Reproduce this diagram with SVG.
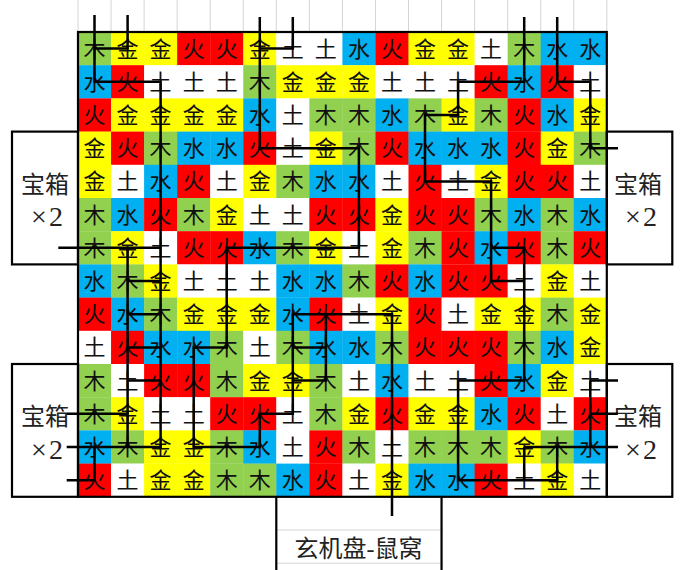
<svg xmlns="http://www.w3.org/2000/svg" width="688" height="570" viewBox="0 0 688 570">
<style>
.a{fill:#92D050}.b{fill:#FFFF00}.c{fill:#FF0000}.d{fill:#FFFFFF}.e{fill:#00B0F0}
.cells text{font-family:"Noto Sans CJK SC",sans-serif;font-size:22px;fill:#111;text-anchor:middle}
.lbl{font-family:"Liberation Serif","Noto Sans CJK SC",serif;font-size:24px;fill:#222;text-anchor:middle}
.x2{font-family:"Liberation Serif",serif;font-size:28px;fill:#222;text-anchor:middle;letter-spacing:2px}
.ln{fill:none;stroke:#000;stroke-width:2.5}
.bx{fill:none;stroke:#000;stroke-width:2.2}
.gl{stroke:#d4d4d4;stroke-width:1}
</style>
<rect width="688" height="570" fill="#fff"/>
<g id="sheet-grid">
<path class="gl" d="M78,0V32M111.05,0V32M144.1,0V32M177.15,0V32M210.2,0V32M243.25,0V32M276.3,0V32M309.35,0V32M342.4,0V32M375.45,0V32M408.5,0V32M441.55,0V32M474.6,0V32M507.65,0V32M540.7,0V32M573.75,0V32M606.8,0V32M276.3,530H441.55M276.3,563.2H441.55"/>
</g>
<g class="cells">
<g id="n0-0" transform="translate(78 32)"><rect class="a" width="33.4" height="33.4"/><text x="16.5" y="24.6">木</text></g>
<g id="n0-1" transform="translate(111.05 32)"><rect class="b" width="33.4" height="33.4"/><text x="16.5" y="24.6">金</text></g>
<g id="n0-2" transform="translate(144.1 32)"><rect class="b" width="33.4" height="33.4"/><text x="16.5" y="24.6">金</text></g>
<g id="n0-3" transform="translate(177.15 32)"><rect class="c" width="33.4" height="33.4"/><text x="16.5" y="24.6">火</text></g>
<g id="n0-4" transform="translate(210.2 32)"><rect class="c" width="33.4" height="33.4"/><text x="16.5" y="24.6">火</text></g>
<g id="n0-5" transform="translate(243.25 32)"><rect class="b" width="33.4" height="33.4"/><text x="16.5" y="24.6">金</text></g>
<g id="n0-6" transform="translate(276.3 32)"><rect class="d" width="33.4" height="33.4"/><text x="16.5" y="24.6">土</text></g>
<g id="n0-7" transform="translate(309.35 32)"><rect class="d" width="33.4" height="33.4"/><text x="16.5" y="24.6">土</text></g>
<g id="n0-8" transform="translate(342.4 32)"><rect class="e" width="33.4" height="33.4"/><text x="16.5" y="24.6">水</text></g>
<g id="n0-9" transform="translate(375.45 32)"><rect class="c" width="33.4" height="33.4"/><text x="16.5" y="24.6">火</text></g>
<g id="n0-10" transform="translate(408.5 32)"><rect class="b" width="33.4" height="33.4"/><text x="16.5" y="24.6">金</text></g>
<g id="n0-11" transform="translate(441.55 32)"><rect class="b" width="33.4" height="33.4"/><text x="16.5" y="24.6">金</text></g>
<g id="n0-12" transform="translate(474.6 32)"><rect class="d" width="33.4" height="33.4"/><text x="16.5" y="24.6">土</text></g>
<g id="n0-13" transform="translate(507.65 32)"><rect class="a" width="33.4" height="33.4"/><text x="16.5" y="24.6">木</text></g>
<g id="n0-14" transform="translate(540.7 32)"><rect class="e" width="33.4" height="33.4"/><text x="16.5" y="24.6">水</text></g>
<g id="n0-15" transform="translate(573.75 32)"><rect class="e" width="33.05" height="33.4"/><text x="16.5" y="24.6">水</text></g>

<g id="n1-0" transform="translate(78 65.2)"><rect class="e" width="33.4" height="33.4"/><text x="16.5" y="24.6">水</text></g>
<g id="n1-1" transform="translate(111.05 65.2)"><rect class="c" width="33.4" height="33.4"/><text x="16.5" y="24.6">火</text></g>
<g id="n1-2" transform="translate(144.1 65.2)"><rect class="d" width="33.4" height="33.4"/><text x="16.5" y="24.6">土</text></g>
<g id="n1-3" transform="translate(177.15 65.2)"><rect class="d" width="33.4" height="33.4"/><text x="16.5" y="24.6">土</text></g>
<g id="n1-4" transform="translate(210.2 65.2)"><rect class="d" width="33.4" height="33.4"/><text x="16.5" y="24.6">土</text></g>
<g id="n1-5" transform="translate(243.25 65.2)"><rect class="a" width="33.4" height="33.4"/><text x="16.5" y="24.6">木</text></g>
<g id="n1-6" transform="translate(276.3 65.2)"><rect class="b" width="33.4" height="33.4"/><text x="16.5" y="24.6">金</text></g>
<g id="n1-7" transform="translate(309.35 65.2)"><rect class="b" width="33.4" height="33.4"/><text x="16.5" y="24.6">金</text></g>
<g id="n1-8" transform="translate(342.4 65.2)"><rect class="b" width="33.4" height="33.4"/><text x="16.5" y="24.6">金</text></g>
<g id="n1-9" transform="translate(375.45 65.2)"><rect class="d" width="33.4" height="33.4"/><text x="16.5" y="24.6">土</text></g>
<g id="n1-10" transform="translate(408.5 65.2)"><rect class="d" width="33.4" height="33.4"/><text x="16.5" y="24.6">土</text></g>
<g id="n1-11" transform="translate(441.55 65.2)"><rect class="d" width="33.4" height="33.4"/><text x="16.5" y="24.6">土</text></g>
<g id="n1-12" transform="translate(474.6 65.2)"><rect class="c" width="33.4" height="33.4"/><text x="16.5" y="24.6">火</text></g>
<g id="n1-13" transform="translate(507.65 65.2)"><rect class="e" width="33.4" height="33.4"/><text x="16.5" y="24.6">水</text></g>
<g id="n1-14" transform="translate(540.7 65.2)"><rect class="c" width="33.4" height="33.4"/><text x="16.5" y="24.6">火</text></g>
<g id="n1-15" transform="translate(573.75 65.2)"><rect class="d" width="33.05" height="33.4"/><text x="16.5" y="24.6">土</text></g>

<g id="n2-0" transform="translate(78 98.4)"><rect class="c" width="33.4" height="33.4"/><text x="16.5" y="24.6">火</text></g>
<g id="n2-1" transform="translate(111.05 98.4)"><rect class="b" width="33.4" height="33.4"/><text x="16.5" y="24.6">金</text></g>
<g id="n2-2" transform="translate(144.1 98.4)"><rect class="b" width="33.4" height="33.4"/><text x="16.5" y="24.6">金</text></g>
<g id="n2-3" transform="translate(177.15 98.4)"><rect class="b" width="33.4" height="33.4"/><text x="16.5" y="24.6">金</text></g>
<g id="n2-4" transform="translate(210.2 98.4)"><rect class="b" width="33.4" height="33.4"/><text x="16.5" y="24.6">金</text></g>
<g id="n2-5" transform="translate(243.25 98.4)"><rect class="e" width="33.4" height="33.4"/><text x="16.5" y="24.6">水</text></g>
<g id="n2-6" transform="translate(276.3 98.4)"><rect class="d" width="33.4" height="33.4"/><text x="16.5" y="24.6">土</text></g>
<g id="n2-7" transform="translate(309.35 98.4)"><rect class="a" width="33.4" height="33.4"/><text x="16.5" y="24.6">木</text></g>
<g id="n2-8" transform="translate(342.4 98.4)"><rect class="a" width="33.4" height="33.4"/><text x="16.5" y="24.6">木</text></g>
<g id="n2-9" transform="translate(375.45 98.4)"><rect class="e" width="33.4" height="33.4"/><text x="16.5" y="24.6">水</text></g>
<g id="n2-10" transform="translate(408.5 98.4)"><rect class="a" width="33.4" height="33.4"/><text x="16.5" y="24.6">木</text></g>
<g id="n2-11" transform="translate(441.55 98.4)"><rect class="b" width="33.4" height="33.4"/><text x="16.5" y="24.6">金</text></g>
<g id="n2-12" transform="translate(474.6 98.4)"><rect class="a" width="33.4" height="33.4"/><text x="16.5" y="24.6">木</text></g>
<g id="n2-13" transform="translate(507.65 98.4)"><rect class="c" width="33.4" height="33.4"/><text x="16.5" y="24.6">火</text></g>
<g id="n2-14" transform="translate(540.7 98.4)"><rect class="e" width="33.4" height="33.4"/><text x="16.5" y="24.6">水</text></g>
<g id="n2-15" transform="translate(573.75 98.4)"><rect class="b" width="33.05" height="33.4"/><text x="16.5" y="24.6">金</text></g>

<g id="n3-0" transform="translate(78 131.6)"><rect class="b" width="33.4" height="33.4"/><text x="16.5" y="24.6">金</text></g>
<g id="n3-1" transform="translate(111.05 131.6)"><rect class="c" width="33.4" height="33.4"/><text x="16.5" y="24.6">火</text></g>
<g id="n3-2" transform="translate(144.1 131.6)"><rect class="a" width="33.4" height="33.4"/><text x="16.5" y="24.6">木</text></g>
<g id="n3-3" transform="translate(177.15 131.6)"><rect class="e" width="33.4" height="33.4"/><text x="16.5" y="24.6">水</text></g>
<g id="n3-4" transform="translate(210.2 131.6)"><rect class="e" width="33.4" height="33.4"/><text x="16.5" y="24.6">水</text></g>
<g id="n3-5" transform="translate(243.25 131.6)"><rect class="c" width="33.4" height="33.4"/><text x="16.5" y="24.6">火</text></g>
<g id="n3-6" transform="translate(276.3 131.6)"><rect class="d" width="33.4" height="33.4"/><text x="16.5" y="24.6">土</text></g>
<g id="n3-7" transform="translate(309.35 131.6)"><rect class="b" width="33.4" height="33.4"/><text x="16.5" y="24.6">金</text></g>
<g id="n3-8" transform="translate(342.4 131.6)"><rect class="a" width="33.4" height="33.4"/><text x="16.5" y="24.6">木</text></g>
<g id="n3-9" transform="translate(375.45 131.6)"><rect class="c" width="33.4" height="33.4"/><text x="16.5" y="24.6">火</text></g>
<g id="n3-10" transform="translate(408.5 131.6)"><rect class="e" width="33.4" height="33.4"/><text x="16.5" y="24.6">水</text></g>
<g id="n3-11" transform="translate(441.55 131.6)"><rect class="e" width="33.4" height="33.4"/><text x="16.5" y="24.6">水</text></g>
<g id="n3-12" transform="translate(474.6 131.6)"><rect class="e" width="33.4" height="33.4"/><text x="16.5" y="24.6">水</text></g>
<g id="n3-13" transform="translate(507.65 131.6)"><rect class="c" width="33.4" height="33.4"/><text x="16.5" y="24.6">火</text></g>
<g id="n3-14" transform="translate(540.7 131.6)"><rect class="b" width="33.4" height="33.4"/><text x="16.5" y="24.6">金</text></g>
<g id="n3-15" transform="translate(573.75 131.6)"><rect class="a" width="33.05" height="33.4"/><text x="16.5" y="24.6">木</text></g>

<g id="n4-0" transform="translate(78 164.8)"><rect class="b" width="33.4" height="33.4"/><text x="16.5" y="24.6">金</text></g>
<g id="n4-1" transform="translate(111.05 164.8)"><rect class="d" width="33.4" height="33.4"/><text x="16.5" y="24.6">土</text></g>
<g id="n4-2" transform="translate(144.1 164.8)"><rect class="e" width="33.4" height="33.4"/><text x="16.5" y="24.6">水</text></g>
<g id="n4-3" transform="translate(177.15 164.8)"><rect class="c" width="33.4" height="33.4"/><text x="16.5" y="24.6">火</text></g>
<g id="n4-4" transform="translate(210.2 164.8)"><rect class="d" width="33.4" height="33.4"/><text x="16.5" y="24.6">土</text></g>
<g id="n4-5" transform="translate(243.25 164.8)"><rect class="b" width="33.4" height="33.4"/><text x="16.5" y="24.6">金</text></g>
<g id="n4-6" transform="translate(276.3 164.8)"><rect class="a" width="33.4" height="33.4"/><text x="16.5" y="24.6">木</text></g>
<g id="n4-7" transform="translate(309.35 164.8)"><rect class="e" width="33.4" height="33.4"/><text x="16.5" y="24.6">水</text></g>
<g id="n4-8" transform="translate(342.4 164.8)"><rect class="e" width="33.4" height="33.4"/><text x="16.5" y="24.6">水</text></g>
<g id="n4-9" transform="translate(375.45 164.8)"><rect class="d" width="33.4" height="33.4"/><text x="16.5" y="24.6">土</text></g>
<g id="n4-10" transform="translate(408.5 164.8)"><rect class="c" width="33.4" height="33.4"/><text x="16.5" y="24.6">火</text></g>
<g id="n4-11" transform="translate(441.55 164.8)"><rect class="d" width="33.4" height="33.4"/><text x="16.5" y="24.6">土</text></g>
<g id="n4-12" transform="translate(474.6 164.8)"><rect class="b" width="33.4" height="33.4"/><text x="16.5" y="24.6">金</text></g>
<g id="n4-13" transform="translate(507.65 164.8)"><rect class="c" width="33.4" height="33.4"/><text x="16.5" y="24.6">火</text></g>
<g id="n4-14" transform="translate(540.7 164.8)"><rect class="c" width="33.4" height="33.4"/><text x="16.5" y="24.6">火</text></g>
<g id="n4-15" transform="translate(573.75 164.8)"><rect class="d" width="33.05" height="33.4"/><text x="16.5" y="24.6">土</text></g>

<g id="n5-0" transform="translate(78 198)"><rect class="a" width="33.4" height="33.4"/><text x="16.5" y="24.6">木</text></g>
<g id="n5-1" transform="translate(111.05 198)"><rect class="e" width="33.4" height="33.4"/><text x="16.5" y="24.6">水</text></g>
<g id="n5-2" transform="translate(144.1 198)"><rect class="c" width="33.4" height="33.4"/><text x="16.5" y="24.6">火</text></g>
<g id="n5-3" transform="translate(177.15 198)"><rect class="a" width="33.4" height="33.4"/><text x="16.5" y="24.6">木</text></g>
<g id="n5-4" transform="translate(210.2 198)"><rect class="b" width="33.4" height="33.4"/><text x="16.5" y="24.6">金</text></g>
<g id="n5-5" transform="translate(243.25 198)"><rect class="d" width="33.4" height="33.4"/><text x="16.5" y="24.6">土</text></g>
<g id="n5-6" transform="translate(276.3 198)"><rect class="d" width="33.4" height="33.4"/><text x="16.5" y="24.6">土</text></g>
<g id="n5-7" transform="translate(309.35 198)"><rect class="c" width="33.4" height="33.4"/><text x="16.5" y="24.6">火</text></g>
<g id="n5-8" transform="translate(342.4 198)"><rect class="c" width="33.4" height="33.4"/><text x="16.5" y="24.6">火</text></g>
<g id="n5-9" transform="translate(375.45 198)"><rect class="b" width="33.4" height="33.4"/><text x="16.5" y="24.6">金</text></g>
<g id="n5-10" transform="translate(408.5 198)"><rect class="c" width="33.4" height="33.4"/><text x="16.5" y="24.6">火</text></g>
<g id="n5-11" transform="translate(441.55 198)"><rect class="c" width="33.4" height="33.4"/><text x="16.5" y="24.6">火</text></g>
<g id="n5-12" transform="translate(474.6 198)"><rect class="a" width="33.4" height="33.4"/><text x="16.5" y="24.6">木</text></g>
<g id="n5-13" transform="translate(507.65 198)"><rect class="e" width="33.4" height="33.4"/><text x="16.5" y="24.6">水</text></g>
<g id="n5-14" transform="translate(540.7 198)"><rect class="a" width="33.4" height="33.4"/><text x="16.5" y="24.6">木</text></g>
<g id="n5-15" transform="translate(573.75 198)"><rect class="e" width="33.05" height="33.4"/><text x="16.5" y="24.6">水</text></g>

<g id="n6-0" transform="translate(78 231.2)"><rect class="a" width="33.4" height="33.4"/><text x="16.5" y="24.6">木</text></g>
<g id="n6-1" transform="translate(111.05 231.2)"><rect class="b" width="33.4" height="33.4"/><text x="16.5" y="24.6">金</text></g>
<g id="n6-2" transform="translate(144.1 231.2)"><rect class="d" width="33.4" height="33.4"/><text x="16.5" y="24.6">土</text></g>
<g id="n6-3" transform="translate(177.15 231.2)"><rect class="c" width="33.4" height="33.4"/><text x="16.5" y="24.6">火</text></g>
<g id="n6-4" transform="translate(210.2 231.2)"><rect class="c" width="33.4" height="33.4"/><text x="16.5" y="24.6">火</text></g>
<g id="n6-5" transform="translate(243.25 231.2)"><rect class="e" width="33.4" height="33.4"/><text x="16.5" y="24.6">水</text></g>
<g id="n6-6" transform="translate(276.3 231.2)"><rect class="a" width="33.4" height="33.4"/><text x="16.5" y="24.6">木</text></g>
<g id="n6-7" transform="translate(309.35 231.2)"><rect class="b" width="33.4" height="33.4"/><text x="16.5" y="24.6">金</text></g>
<g id="n6-8" transform="translate(342.4 231.2)"><rect class="d" width="33.4" height="33.4"/><text x="16.5" y="24.6">土</text></g>
<g id="n6-9" transform="translate(375.45 231.2)"><rect class="b" width="33.4" height="33.4"/><text x="16.5" y="24.6">金</text></g>
<g id="n6-10" transform="translate(408.5 231.2)"><rect class="a" width="33.4" height="33.4"/><text x="16.5" y="24.6">木</text></g>
<g id="n6-11" transform="translate(441.55 231.2)"><rect class="c" width="33.4" height="33.4"/><text x="16.5" y="24.6">火</text></g>
<g id="n6-12" transform="translate(474.6 231.2)"><rect class="e" width="33.4" height="33.4"/><text x="16.5" y="24.6">水</text></g>
<g id="n6-13" transform="translate(507.65 231.2)"><rect class="c" width="33.4" height="33.4"/><text x="16.5" y="24.6">火</text></g>
<g id="n6-14" transform="translate(540.7 231.2)"><rect class="a" width="33.4" height="33.4"/><text x="16.5" y="24.6">木</text></g>
<g id="n6-15" transform="translate(573.75 231.2)"><rect class="c" width="33.05" height="33.4"/><text x="16.5" y="24.6">火</text></g>

<g id="n7-0" transform="translate(78 264.4)"><rect class="e" width="33.4" height="33.4"/><text x="16.5" y="24.6">水</text></g>
<g id="n7-1" transform="translate(111.05 264.4)"><rect class="a" width="33.4" height="33.4"/><text x="16.5" y="24.6">木</text></g>
<g id="n7-2" transform="translate(144.1 264.4)"><rect class="b" width="33.4" height="33.4"/><text x="16.5" y="24.6">金</text></g>
<g id="n7-3" transform="translate(177.15 264.4)"><rect class="d" width="33.4" height="33.4"/><text x="16.5" y="24.6">土</text></g>
<g id="n7-4" transform="translate(210.2 264.4)"><rect class="d" width="33.4" height="33.4"/><text x="16.5" y="24.6">土</text></g>
<g id="n7-5" transform="translate(243.25 264.4)"><rect class="d" width="33.4" height="33.4"/><text x="16.5" y="24.6">土</text></g>
<g id="n7-6" transform="translate(276.3 264.4)"><rect class="e" width="33.4" height="33.4"/><text x="16.5" y="24.6">水</text></g>
<g id="n7-7" transform="translate(309.35 264.4)"><rect class="e" width="33.4" height="33.4"/><text x="16.5" y="24.6">水</text></g>
<g id="n7-8" transform="translate(342.4 264.4)"><rect class="a" width="33.4" height="33.4"/><text x="16.5" y="24.6">木</text></g>
<g id="n7-9" transform="translate(375.45 264.4)"><rect class="c" width="33.4" height="33.4"/><text x="16.5" y="24.6">火</text></g>
<g id="n7-10" transform="translate(408.5 264.4)"><rect class="e" width="33.4" height="33.4"/><text x="16.5" y="24.6">水</text></g>
<g id="n7-11" transform="translate(441.55 264.4)"><rect class="c" width="33.4" height="33.4"/><text x="16.5" y="24.6">火</text></g>
<g id="n7-12" transform="translate(474.6 264.4)"><rect class="c" width="33.4" height="33.4"/><text x="16.5" y="24.6">火</text></g>
<g id="n7-13" transform="translate(507.65 264.4)"><rect class="d" width="33.4" height="33.4"/><text x="16.5" y="24.6">土</text></g>
<g id="n7-14" transform="translate(540.7 264.4)"><rect class="b" width="33.4" height="33.4"/><text x="16.5" y="24.6">金</text></g>
<g id="n7-15" transform="translate(573.75 264.4)"><rect class="d" width="33.05" height="33.4"/><text x="16.5" y="24.6">土</text></g>

<g id="n8-0" transform="translate(78 297.6)"><rect class="c" width="33.4" height="33.4"/><text x="16.5" y="24.6">火</text></g>
<g id="n8-1" transform="translate(111.05 297.6)"><rect class="e" width="33.4" height="33.4"/><text x="16.5" y="24.6">水</text></g>
<g id="n8-2" transform="translate(144.1 297.6)"><rect class="a" width="33.4" height="33.4"/><text x="16.5" y="24.6">木</text></g>
<g id="n8-3" transform="translate(177.15 297.6)"><rect class="b" width="33.4" height="33.4"/><text x="16.5" y="24.6">金</text></g>
<g id="n8-4" transform="translate(210.2 297.6)"><rect class="b" width="33.4" height="33.4"/><text x="16.5" y="24.6">金</text></g>
<g id="n8-5" transform="translate(243.25 297.6)"><rect class="b" width="33.4" height="33.4"/><text x="16.5" y="24.6">金</text></g>
<g id="n8-6" transform="translate(276.3 297.6)"><rect class="e" width="33.4" height="33.4"/><text x="16.5" y="24.6">水</text></g>
<g id="n8-7" transform="translate(309.35 297.6)"><rect class="c" width="33.4" height="33.4"/><text x="16.5" y="24.6">火</text></g>
<g id="n8-8" transform="translate(342.4 297.6)"><rect class="d" width="33.4" height="33.4"/><text x="16.5" y="24.6">土</text></g>
<g id="n8-9" transform="translate(375.45 297.6)"><rect class="b" width="33.4" height="33.4"/><text x="16.5" y="24.6">金</text></g>
<g id="n8-10" transform="translate(408.5 297.6)"><rect class="c" width="33.4" height="33.4"/><text x="16.5" y="24.6">火</text></g>
<g id="n8-11" transform="translate(441.55 297.6)"><rect class="d" width="33.4" height="33.4"/><text x="16.5" y="24.6">土</text></g>
<g id="n8-12" transform="translate(474.6 297.6)"><rect class="b" width="33.4" height="33.4"/><text x="16.5" y="24.6">金</text></g>
<g id="n8-13" transform="translate(507.65 297.6)"><rect class="b" width="33.4" height="33.4"/><text x="16.5" y="24.6">金</text></g>
<g id="n8-14" transform="translate(540.7 297.6)"><rect class="a" width="33.4" height="33.4"/><text x="16.5" y="24.6">木</text></g>
<g id="n8-15" transform="translate(573.75 297.6)"><rect class="b" width="33.05" height="33.4"/><text x="16.5" y="24.6">金</text></g>

<g id="n9-0" transform="translate(78 330.8)"><rect class="d" width="33.4" height="33.4"/><text x="16.5" y="24.6">土</text></g>
<g id="n9-1" transform="translate(111.05 330.8)"><rect class="c" width="33.4" height="33.4"/><text x="16.5" y="24.6">火</text></g>
<g id="n9-2" transform="translate(144.1 330.8)"><rect class="e" width="33.4" height="33.4"/><text x="16.5" y="24.6">水</text></g>
<g id="n9-3" transform="translate(177.15 330.8)"><rect class="e" width="33.4" height="33.4"/><text x="16.5" y="24.6">水</text></g>
<g id="n9-4" transform="translate(210.2 330.8)"><rect class="a" width="33.4" height="33.4"/><text x="16.5" y="24.6">木</text></g>
<g id="n9-5" transform="translate(243.25 330.8)"><rect class="d" width="33.4" height="33.4"/><text x="16.5" y="24.6">土</text></g>
<g id="n9-6" transform="translate(276.3 330.8)"><rect class="a" width="33.4" height="33.4"/><text x="16.5" y="24.6">木</text></g>
<g id="n9-7" transform="translate(309.35 330.8)"><rect class="e" width="33.4" height="33.4"/><text x="16.5" y="24.6">水</text></g>
<g id="n9-8" transform="translate(342.4 330.8)"><rect class="e" width="33.4" height="33.4"/><text x="16.5" y="24.6">水</text></g>
<g id="n9-9" transform="translate(375.45 330.8)"><rect class="a" width="33.4" height="33.4"/><text x="16.5" y="24.6">木</text></g>
<g id="n9-10" transform="translate(408.5 330.8)"><rect class="c" width="33.4" height="33.4"/><text x="16.5" y="24.6">火</text></g>
<g id="n9-11" transform="translate(441.55 330.8)"><rect class="c" width="33.4" height="33.4"/><text x="16.5" y="24.6">火</text></g>
<g id="n9-12" transform="translate(474.6 330.8)"><rect class="c" width="33.4" height="33.4"/><text x="16.5" y="24.6">火</text></g>
<g id="n9-13" transform="translate(507.65 330.8)"><rect class="a" width="33.4" height="33.4"/><text x="16.5" y="24.6">木</text></g>
<g id="n9-14" transform="translate(540.7 330.8)"><rect class="e" width="33.4" height="33.4"/><text x="16.5" y="24.6">水</text></g>
<g id="n9-15" transform="translate(573.75 330.8)"><rect class="b" width="33.05" height="33.4"/><text x="16.5" y="24.6">金</text></g>

<g id="n10-0" transform="translate(78 364)"><rect class="a" width="33.4" height="33.4"/><text x="16.5" y="24.6">木</text></g>
<g id="n10-1" transform="translate(111.05 364)"><rect class="d" width="33.4" height="33.4"/><text x="16.5" y="24.6">土</text></g>
<g id="n10-2" transform="translate(144.1 364)"><rect class="c" width="33.4" height="33.4"/><text x="16.5" y="24.6">火</text></g>
<g id="n10-3" transform="translate(177.15 364)"><rect class="c" width="33.4" height="33.4"/><text x="16.5" y="24.6">火</text></g>
<g id="n10-4" transform="translate(210.2 364)"><rect class="a" width="33.4" height="33.4"/><text x="16.5" y="24.6">木</text></g>
<g id="n10-5" transform="translate(243.25 364)"><rect class="b" width="33.4" height="33.4"/><text x="16.5" y="24.6">金</text></g>
<g id="n10-6" transform="translate(276.3 364)"><rect class="b" width="33.4" height="33.4"/><text x="16.5" y="24.6">金</text></g>
<g id="n10-7" transform="translate(309.35 364)"><rect class="a" width="33.4" height="33.4"/><text x="16.5" y="24.6">木</text></g>
<g id="n10-8" transform="translate(342.4 364)"><rect class="d" width="33.4" height="33.4"/><text x="16.5" y="24.6">土</text></g>
<g id="n10-9" transform="translate(375.45 364)"><rect class="e" width="33.4" height="33.4"/><text x="16.5" y="24.6">水</text></g>
<g id="n10-10" transform="translate(408.5 364)"><rect class="d" width="33.4" height="33.4"/><text x="16.5" y="24.6">土</text></g>
<g id="n10-11" transform="translate(441.55 364)"><rect class="d" width="33.4" height="33.4"/><text x="16.5" y="24.6">土</text></g>
<g id="n10-12" transform="translate(474.6 364)"><rect class="c" width="33.4" height="33.4"/><text x="16.5" y="24.6">火</text></g>
<g id="n10-13" transform="translate(507.65 364)"><rect class="e" width="33.4" height="33.4"/><text x="16.5" y="24.6">水</text></g>
<g id="n10-14" transform="translate(540.7 364)"><rect class="b" width="33.4" height="33.4"/><text x="16.5" y="24.6">金</text></g>
<g id="n10-15" transform="translate(573.75 364)"><rect class="d" width="33.05" height="33.4"/><text x="16.5" y="24.6">土</text></g>

<g id="n11-0" transform="translate(78 397.2)"><rect class="a" width="33.4" height="33.4"/><text x="16.5" y="24.6">木</text></g>
<g id="n11-1" transform="translate(111.05 397.2)"><rect class="b" width="33.4" height="33.4"/><text x="16.5" y="24.6">金</text></g>
<g id="n11-2" transform="translate(144.1 397.2)"><rect class="d" width="33.4" height="33.4"/><text x="16.5" y="24.6">土</text></g>
<g id="n11-3" transform="translate(177.15 397.2)"><rect class="d" width="33.4" height="33.4"/><text x="16.5" y="24.6">土</text></g>
<g id="n11-4" transform="translate(210.2 397.2)"><rect class="c" width="33.4" height="33.4"/><text x="16.5" y="24.6">火</text></g>
<g id="n11-5" transform="translate(243.25 397.2)"><rect class="c" width="33.4" height="33.4"/><text x="16.5" y="24.6">火</text></g>
<g id="n11-6" transform="translate(276.3 397.2)"><rect class="d" width="33.4" height="33.4"/><text x="16.5" y="24.6">土</text></g>
<g id="n11-7" transform="translate(309.35 397.2)"><rect class="a" width="33.4" height="33.4"/><text x="16.5" y="24.6">木</text></g>
<g id="n11-8" transform="translate(342.4 397.2)"><rect class="b" width="33.4" height="33.4"/><text x="16.5" y="24.6">金</text></g>
<g id="n11-9" transform="translate(375.45 397.2)"><rect class="c" width="33.4" height="33.4"/><text x="16.5" y="24.6">火</text></g>
<g id="n11-10" transform="translate(408.5 397.2)"><rect class="b" width="33.4" height="33.4"/><text x="16.5" y="24.6">金</text></g>
<g id="n11-11" transform="translate(441.55 397.2)"><rect class="b" width="33.4" height="33.4"/><text x="16.5" y="24.6">金</text></g>
<g id="n11-12" transform="translate(474.6 397.2)"><rect class="e" width="33.4" height="33.4"/><text x="16.5" y="24.6">水</text></g>
<g id="n11-13" transform="translate(507.65 397.2)"><rect class="c" width="33.4" height="33.4"/><text x="16.5" y="24.6">火</text></g>
<g id="n11-14" transform="translate(540.7 397.2)"><rect class="d" width="33.4" height="33.4"/><text x="16.5" y="24.6">土</text></g>
<g id="n11-15" transform="translate(573.75 397.2)"><rect class="c" width="33.05" height="33.4"/><text x="16.5" y="24.6">火</text></g>

<g id="n12-0" transform="translate(78 430.4)"><rect class="e" width="33.4" height="33.4"/><text x="16.5" y="24.6">水</text></g>
<g id="n12-1" transform="translate(111.05 430.4)"><rect class="a" width="33.4" height="33.4"/><text x="16.5" y="24.6">木</text></g>
<g id="n12-2" transform="translate(144.1 430.4)"><rect class="b" width="33.4" height="33.4"/><text x="16.5" y="24.6">金</text></g>
<g id="n12-3" transform="translate(177.15 430.4)"><rect class="b" width="33.4" height="33.4"/><text x="16.5" y="24.6">金</text></g>
<g id="n12-4" transform="translate(210.2 430.4)"><rect class="a" width="33.4" height="33.4"/><text x="16.5" y="24.6">木</text></g>
<g id="n12-5" transform="translate(243.25 430.4)"><rect class="e" width="33.4" height="33.4"/><text x="16.5" y="24.6">水</text></g>
<g id="n12-6" transform="translate(276.3 430.4)"><rect class="d" width="33.4" height="33.4"/><text x="16.5" y="24.6">土</text></g>
<g id="n12-7" transform="translate(309.35 430.4)"><rect class="c" width="33.4" height="33.4"/><text x="16.5" y="24.6">火</text></g>
<g id="n12-8" transform="translate(342.4 430.4)"><rect class="a" width="33.4" height="33.4"/><text x="16.5" y="24.6">木</text></g>
<g id="n12-9" transform="translate(375.45 430.4)"><rect class="d" width="33.4" height="33.4"/><text x="16.5" y="24.6">土</text></g>
<g id="n12-10" transform="translate(408.5 430.4)"><rect class="a" width="33.4" height="33.4"/><text x="16.5" y="24.6">木</text></g>
<g id="n12-11" transform="translate(441.55 430.4)"><rect class="a" width="33.4" height="33.4"/><text x="16.5" y="24.6">木</text></g>
<g id="n12-12" transform="translate(474.6 430.4)"><rect class="a" width="33.4" height="33.4"/><text x="16.5" y="24.6">木</text></g>
<g id="n12-13" transform="translate(507.65 430.4)"><rect class="b" width="33.4" height="33.4"/><text x="16.5" y="24.6">金</text></g>
<g id="n12-14" transform="translate(540.7 430.4)"><rect class="a" width="33.4" height="33.4"/><text x="16.5" y="24.6">木</text></g>
<g id="n12-15" transform="translate(573.75 430.4)"><rect class="e" width="33.05" height="33.4"/><text x="16.5" y="24.6">水</text></g>

<g id="n13-0" transform="translate(78 463.6)"><rect class="c" width="33.4" height="33.2"/><text x="16.5" y="24.6">火</text></g>
<g id="n13-1" transform="translate(111.05 463.6)"><rect class="d" width="33.4" height="33.2"/><text x="16.5" y="24.6">土</text></g>
<g id="n13-2" transform="translate(144.1 463.6)"><rect class="b" width="33.4" height="33.2"/><text x="16.5" y="24.6">金</text></g>
<g id="n13-3" transform="translate(177.15 463.6)"><rect class="b" width="33.4" height="33.2"/><text x="16.5" y="24.6">金</text></g>
<g id="n13-4" transform="translate(210.2 463.6)"><rect class="a" width="33.4" height="33.2"/><text x="16.5" y="24.6">木</text></g>
<g id="n13-5" transform="translate(243.25 463.6)"><rect class="a" width="33.4" height="33.2"/><text x="16.5" y="24.6">木</text></g>
<g id="n13-6" transform="translate(276.3 463.6)"><rect class="e" width="33.4" height="33.2"/><text x="16.5" y="24.6">水</text></g>
<g id="n13-7" transform="translate(309.35 463.6)"><rect class="c" width="33.4" height="33.2"/><text x="16.5" y="24.6">火</text></g>
<g id="n13-8" transform="translate(342.4 463.6)"><rect class="d" width="33.4" height="33.2"/><text x="16.5" y="24.6">土</text></g>
<g id="n13-9" transform="translate(375.45 463.6)"><rect class="b" width="33.4" height="33.2"/><text x="16.5" y="24.6">金</text></g>
<g id="n13-10" transform="translate(408.5 463.6)"><rect class="e" width="33.4" height="33.2"/><text x="16.5" y="24.6">水</text></g>
<g id="n13-11" transform="translate(441.55 463.6)"><rect class="e" width="33.4" height="33.2"/><text x="16.5" y="24.6">水</text></g>
<g id="n13-12" transform="translate(474.6 463.6)"><rect class="c" width="33.4" height="33.2"/><text x="16.5" y="24.6">火</text></g>
<g id="n13-13" transform="translate(507.65 463.6)"><rect class="d" width="33.4" height="33.2"/><text x="16.5" y="24.6">土</text></g>
<g id="n13-14" transform="translate(540.7 463.6)"><rect class="b" width="33.4" height="33.2"/><text x="16.5" y="24.6">金</text></g>
<g id="n13-15" transform="translate(573.75 463.6)"><rect class="d" width="33.05" height="33.2"/><text x="16.5" y="24.6">土</text></g>
</g>

<g id="frames">
<rect class="bx" x="78" y="32" width="528.8" height="464.8"/>
<g id="box-ul"><rect class="bx" x="12" y="131.6" width="66" height="132.8"/><text class="lbl" x="45" y="193">宝箱</text><text class="x2" x="48" y="226">×2</text></g>
<g id="box-ll"><rect class="bx" x="12" y="364" width="66" height="132.8"/><text class="lbl" x="45" y="425">宝箱</text><text class="x2" x="48" y="459">×2</text></g>
<g id="box-ur"><rect class="bx" x="606.8" y="131.6" width="65.5" height="132.8"/><text class="lbl" x="638" y="193">宝箱</text><text class="x2" x="642" y="226">×2</text></g>
<g id="box-lr"><rect class="bx" x="606.8" y="364" width="65.5" height="132.8"/><text class="lbl" x="638" y="425">宝箱</text><text class="x2" x="642" y="459">×2</text></g>
<g id="box-bottom"><path class="bx" d="M276.3,496.8V570M441.55,496.8V570"/><text class="lbl" x="358.5" y="557" font-size="23">玄机盘-鼠窝</text></g>
</g>

<g id="connectors">
<path class="ln" d="M94.5,15V81.8H160.6V447H66.7"/>
<path class="ln" d="M127.6,15V48.6H94.5"/>
<path class="ln" d="M58.3,247.8H160.6M127.6,247.8V447M127.6,281H160.6M127.6,314.2H160.6M127.6,347.4H160.6M127.6,380.6H160.6M66.7,413.8H127.6"/>
<path class="ln" d="M94.5,447V480.2H66.7"/>
<path class="ln" d="M259.8,17V148.2H358.9V247.8H226.7V347.4H193.7V447H259.8V413.8H292.8V314.2H392V516"/>
<path class="ln" d="M292.8,17V48.6H259.8"/>
<path class="ln" d="M325.9,314.2V380.6H292.8M292.8,347.4H325.9"/>
<path class="ln" d="M524.2,17V81.8H458.1V115H425V181.4H491.1V281H524.2"/>
<path class="ln" d="M491.1,247.8H524.2V380.6H458.1V480.2H557.2V447"/>
<path class="ln" d="M557.2,17V81.8H590.3V148.2H618"/>
<path class="ln" d="M524.2,447H618M524.2,447V480.2"/>
<path class="ln" d="M590.3,380.6V447M590.3,380.6H618M590.3,413.8H618"/>
</g>
</svg>
